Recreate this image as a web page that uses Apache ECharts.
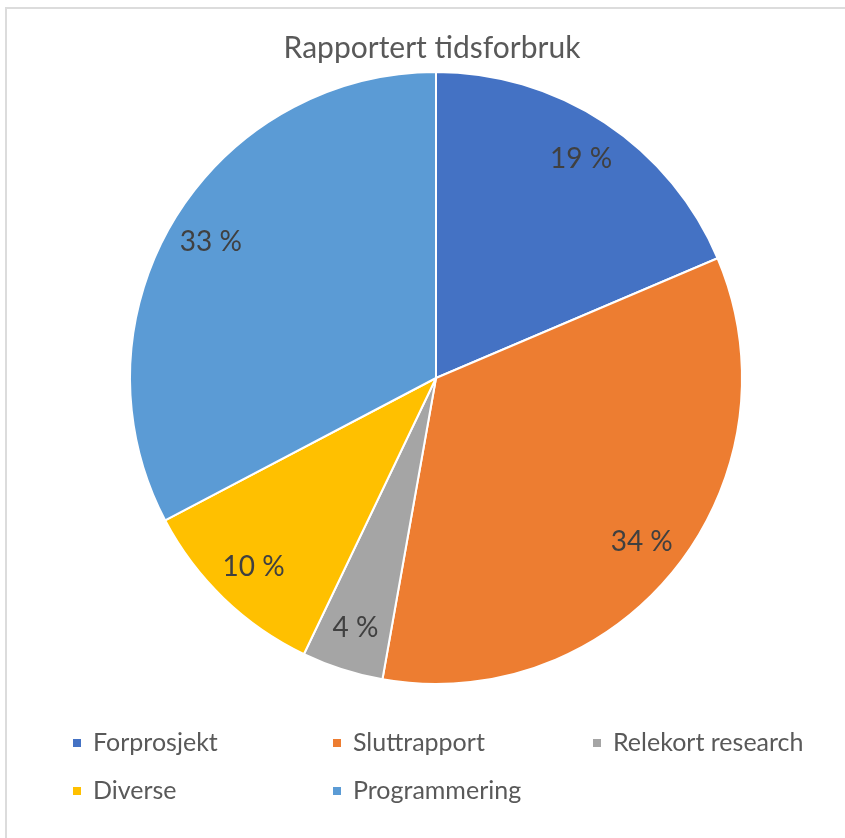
<!DOCTYPE html>
<html>
<head>
<meta charset="utf-8">
<script src="https://cdn.jsdelivr.net/npm/echarts@6/dist/echarts.min.js"></script>
<style>
  html, body { margin: 0; padding: 0; background: #fff; }
  #frame { position: absolute; left: 0; top: 0; width: 845px; height: 838px; }
  #edge { position: absolute; left: 5px; top: 7px; right: 0; bottom: 0;
          border-left: 2px solid #dcdcdc; border-top: 2px solid #dcdcdc; }
  #chart { position: absolute; left: 0; top: 0; width: 845px; height: 838px; }
</style>
</head>
<body>
<div id="frame">
  <div id="edge"></div>
  <div id="chart"></div>
</div>
<script>
const categories = ['Forprosjekt', 'Sluttrapport', 'Relekort research', 'Diverse', 'Programmering'];
const shares = [18.6, 34.2, 4.3, 10.2, 32.7];
const colors = ['#4472C4', '#ED7D31', '#A5A5A5', '#FFC000', '#5B9BD5'];

const font = 'Lato';
const chart = echarts.init(document.getElementById('chart'), null, { renderer: 'canvas' });

const pieData = categories.map((name, i) => ({ name, value: shares[i], itemStyle: { color: colors[i] } }));

chart.setOption({
  animation: false,
  backgroundColor: 'transparent',
  title: {
    text: 'Rapportert tidsforbruk',
    left: 427,
    textAlign: 'center',
    top: 28,
    textStyle: { color: '#595959', fontFamily: font, fontSize: 30, fontWeight: 'normal' }
  },
  legend: {
    left: 71,
    top: 730,
    width: 790,
    padding: 0,
    itemWidth: 10,
    itemHeight: 10,
    itemGap: 22,
    icon: 'rect',
    data: categories.map((name, i) => ({ name, itemStyle: { color: colors[i] } })),
    textStyle: { color: '#595959', fontFamily: font, fontSize: 25, width: 216, lineHeight: 26, padding: [0, 0, 0, 6] }
  },
  series: [
    {
      type: 'pie',
      center: [436, 378],
      radius: [0, 306],
      startAngle: 90,
      clockwise: true,
      silent: true,
      label: { show: false },
      labelLine: { show: false },
      itemStyle: { borderColor: '#fff', borderWidth: 2 },
      data: pieData
    },
    {
      // transparent ring used only to place the percentage labels near the rim
      type: 'pie',
      center: [436, 378],
      radius: [214, 306],
      startAngle: 90,
      clockwise: true,
      silent: true,
      legendHoverLink: false,
      itemStyle: { color: 'rgba(0,0,0,0)' },
      labelLine: { show: false },
      label: {
        show: true,
        position: 'inside',
        color: '#404040',
        fontFamily: font,
        fontSize: 28,
        formatter: p => Math.round(p.percent) + ' %'
      },
      data: categories.map((name, i) => ({ name, value: shares[i] }))
    }
  ]
});
</script>
</body>
</html>
